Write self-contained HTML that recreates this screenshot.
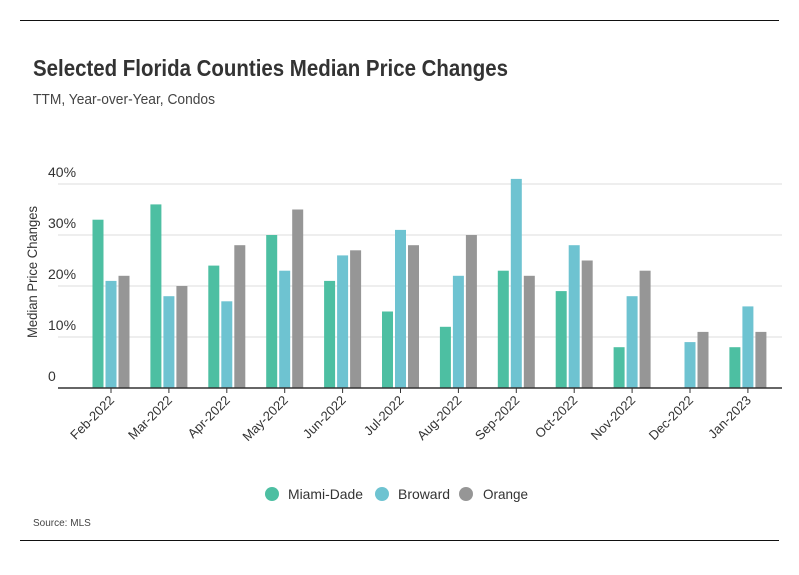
<!DOCTYPE html>
<html><head><meta charset="utf-8"><style>
body{margin:0;background:#fff;font-family:"Liberation Sans",sans-serif;}
#wrap{position:relative;width:799px;height:575px;overflow:hidden;}
</style></head><body>
<div id="wrap">
<svg id="chart" width="799" height="575" xmlns="http://www.w3.org/2000/svg">
<line x1="20" y1="20.5" x2="779" y2="20.5" stroke="#111" stroke-width="1"/>
<text x="33" y="76" font-size="23" font-weight="bold" fill="#333" textLength="475" lengthAdjust="spacingAndGlyphs">Selected Florida Counties Median Price Changes</text>
<text x="33" y="104" font-size="15" fill="#444" textLength="182" lengthAdjust="spacingAndGlyphs">TTM, Year-over-Year, Condos</text>
<text transform="translate(37,272) rotate(-90)" text-anchor="middle" font-size="14" fill="#333" textLength="132" lengthAdjust="spacingAndGlyphs">Median Price Changes</text>
<g id="grid"></g><g id="bars"></g><g id="xlabels"></g>
<g>
<circle cx="272" cy="494" r="7" fill="#4dbfa2"/>
<text x="288" y="499" font-size="14" fill="#333" textLength="75" lengthAdjust="spacingAndGlyphs">Miami-Dade</text>
<circle cx="382" cy="494" r="7" fill="#6ec3d1"/>
<text x="398" y="499" font-size="14" fill="#333" textLength="52" lengthAdjust="spacingAndGlyphs">Broward</text>
<circle cx="466" cy="494" r="7" fill="#969696"/>
<text x="483" y="499" font-size="14" fill="#333" textLength="45" lengthAdjust="spacingAndGlyphs">Orange</text>
</g>
<text x="33" y="526" font-size="10" fill="#444">Source: MLS</text>
<line x1="20" y1="540.5" x2="779" y2="540.5" stroke="#111" stroke-width="1"/>
</svg>
</div>
<script>
const categories=["Feb-2022","Mar-2022","Apr-2022","May-2022","Jun-2022","Jul-2022","Aug-2022","Sep-2022","Oct-2022","Nov-2022","Dec-2022","Jan-2023"];
const miamiDade=[33,36,24,30,21,15,12,23,19,8,0,8];
const broward=[21,18,17,23,26,31,22,41,28,18,9,16];
const orange=[22,20,28,35,27,28,30,22,25,23,11,11];
const yTicks=[0,10,20,30,40];
const yTickLabels=["0","10%","20%","30%","40%"];
const NS="http://www.w3.org/2000/svg";
const x0=58,x1=782,y0=388,pxPer=5.1;
const y=v=>y0-v*pxPer;
const firstC=111,step=57.9;
const xc=i=>firstC+step*i;
const grid=document.getElementById('grid'),bars=document.getElementById('bars'),xl=document.getElementById('xlabels');
function mk(tag,attrs,parent){const e=document.createElementNS(NS,tag);for(const k in attrs)e.setAttribute(k,attrs[k]);parent.appendChild(e);return e;}
yTicks.forEach((t,i)=>{
  if(t>0){const l=mk('line',{x1:x0,x2:x1,y1:y(t),y2:y(t),stroke:'#dcdcdc','stroke-width':1},grid);
  
  }
  const tx=mk('text',{x:48,y:y(t)-7,'font-size':14,fill:'#333'},grid);
  tx.textContent=yTickLabels[i];
  
  
});
const series=[[miamiDade,'#4dbfa2','miami-dade'],[broward,'#6ec3d1','broward'],[orange,'#969696','orange']];
const bw=11,gap=2;
categories.forEach((c,i)=>{
  series.forEach((s,j)=>{
    const v=s[0][i];if(v<=0)return;
    const bx=xc(i)+(j-1)*(bw+gap)-bw/2;
    const r=mk('rect',{x:bx,y:y(v),width:bw,height:y0-y(v),fill:s[1]},bars);
    
    
  });
  const tk=mk('line',{x1:xc(i),x2:xc(i),y1:y0,y2:y0+5,stroke:'#333'},xl);
  
  
  const t=mk('text',{transform:`translate(${xc(i)+4},${y0+13}) rotate(-45)`,'text-anchor':'end','font-size':13,fill:'#333'},xl);
  t.textContent=c;
  
  
});
const ax=mk('line',{x1:x0,x2:x1,y1:y0,y2:y0,stroke:'#333','stroke-width':1.5},xl);


</script>
</body></html>
